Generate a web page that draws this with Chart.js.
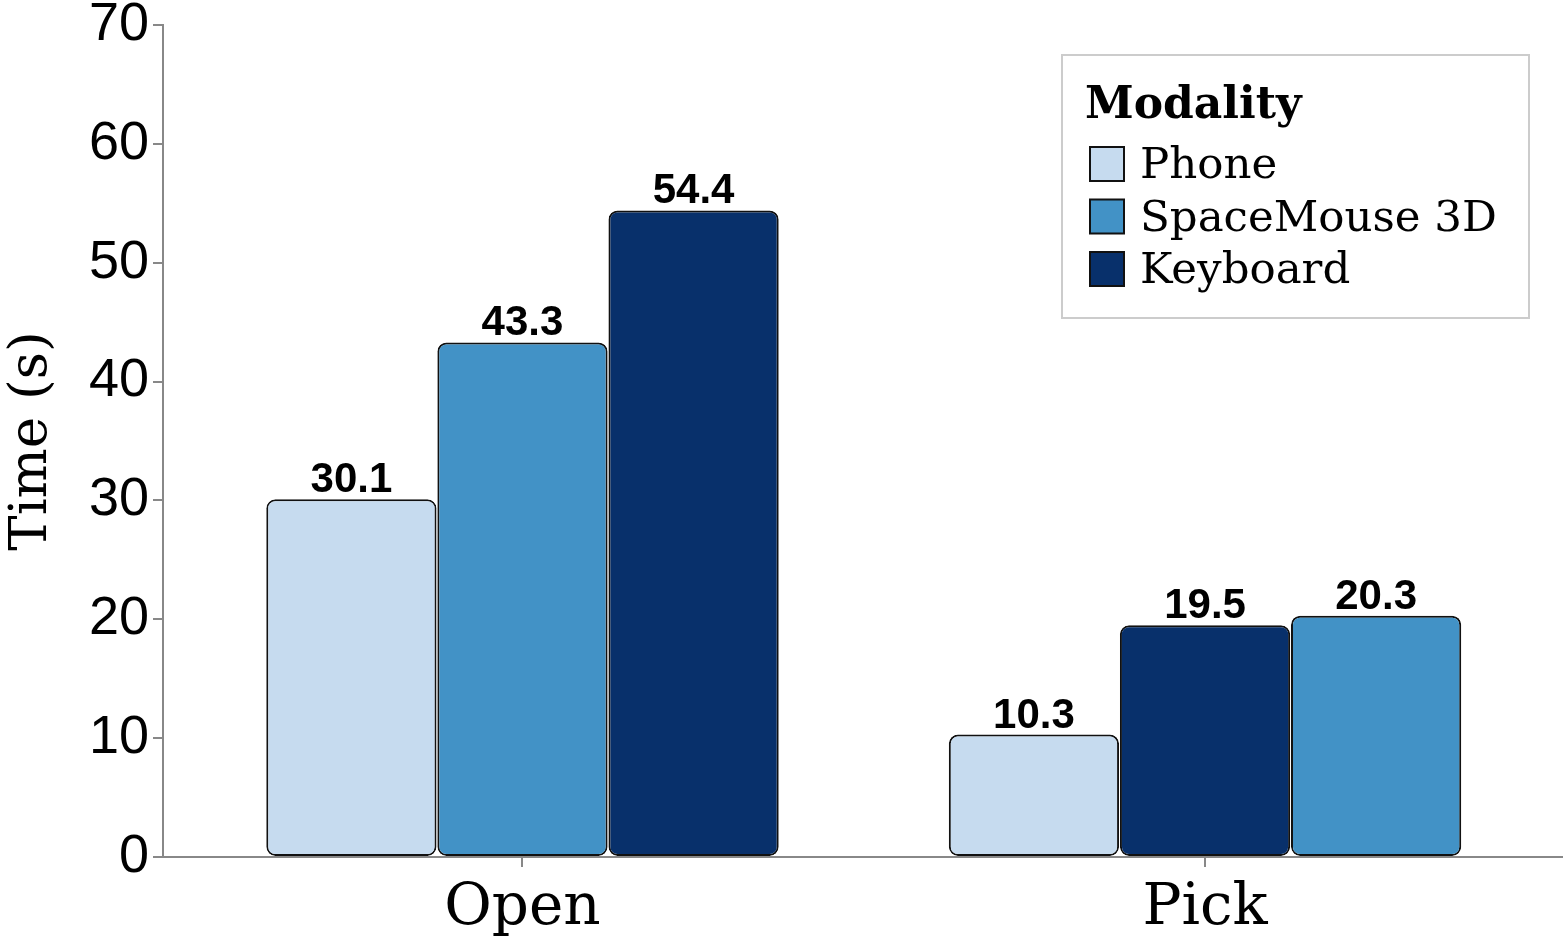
<!DOCTYPE html>
<html>
<head>
<meta charset="utf-8">
<script src="https://cdn.jsdelivr.net/npm/chart.js@4.4.1/dist/chart.umd.min.js"></script>
<style>
  html, body { margin: 0; padding: 0; background: #ffffff; }
  #wrap { width: 1564px; height: 944px; position: relative; }
</style>
</head>
<body>
<div id="wrap"><canvas id="c"></canvas></div>
<script>
// ---- data ----
const categories = ['Open', 'Pick'];
const modalities = ['Phone', 'SpaceMouse 3D', 'Keyboard'];
const phoneTimes = [30.1, 10.3];
const spaceMouseTimes = [43.3, 20.3];
const keyboardTimes = [54.4, 19.5];
const yTickValues = [0, 10, 20, 30, 40, 50, 60, 70];
const legendTitle = 'Modality';
const yTitle = 'Time (s)';

// ---- styles ----
const modalityColors = ['#c6dbef', '#4292c6', '#08306b'];
const serif = '"DejaVu Serif", serif';
const sans = '"Liberation Sans", Arial, sans-serif';

// Bars within each category are ordered by value (ascending), so build
// one dataset per position within the group.
const seriesByModality = [phoneTimes, spaceMouseTimes, keyboardTimes];
const slots = [[], [], []];
categories.forEach((cat, ci) => {
  const order = modalities.map((m, mi) => mi)
    .sort((a, b) => seriesByModality[a][ci] - seriesByModality[b][ci]);
  order.forEach((mi, pos) => {
    slots[pos].push({ x: ci, y: seriesByModality[mi][ci], modality: mi });
  });
});

const datasets = slots.map((pts, pos) => ({
  label: 'slot' + pos,
  data: pts.map(p => ({ x: p.x, y: p.y })),
  backgroundColor: pts.map(p => modalityColors[p.modality]),
  borderColor: '#111111',
  borderWidth: 2,
  borderRadius: 9,
  borderSkipped: false,
  categoryPercentage: 0.752,
  barPercentage: 0.995
}));

const valueLabels = {
  id: 'valueLabels',
  afterDatasetsDraw(chart) {
    const ctx = chart.ctx;
    ctx.save();
    ctx.font = 'bold 42px ' + sans;
    ctx.fillStyle = '#000';
    ctx.textAlign = 'center';
    ctx.textBaseline = 'alphabetic';
    chart.data.datasets.forEach((ds, di) => {
      const meta = chart.getDatasetMeta(di);
      meta.data.forEach((bar, i) => {
        ctx.fillText(ds.data[i].y.toFixed(1), bar.x, bar.y - 7);
      });
    });
    ctx.restore();
  }
};

const boxLegend = {
  id: 'boxLegend',
  afterDraw(chart) {
    const ctx = chart.ctx;
    ctx.save();
    const bx = 1062, by = 55, bw = 467, bh = 263;
    ctx.strokeStyle = '#cccccc';
    ctx.lineWidth = 2;
    ctx.strokeRect(bx, by, bw, bh);
    ctx.fillStyle = '#000';
    ctx.textAlign = 'left';
    ctx.textBaseline = 'alphabetic';
    ctx.font = 'bold 44px ' + serif;
    ctx.fillText(legendTitle, 1085, 118);
    ctx.font = '43.5px ' + serif;
    modalities.forEach((m, i) => {
      const y = 147 + i * 52.5;
      ctx.fillStyle = modalityColors[i];
      ctx.fillRect(1090, y, 34, 34);
      ctx.strokeStyle = '#111';
      ctx.lineWidth = 2;
      ctx.strokeRect(1090, y, 34, 34);
      ctx.fillStyle = '#000';
      ctx.fillText(m, 1140, y + 31);
    });
    ctx.restore();
  }
};

new Chart(document.getElementById('c'), {
  type: 'bar',
  data: { datasets },
  plugins: [valueLabels, boxLegend],
  options: {
    responsive: true,
    maintainAspectRatio: false,
    animation: false,
    layout: { padding: { top: 0, right: 2, bottom: 0, left: 0 } },
    plugins: { legend: { display: false }, tooltip: { enabled: false } },
    scales: {
      x: {
        type: 'linear',
        offset: false,
        min: -0.5267,
        max: 1.523,
        afterBuildTicks(scale) { scale.ticks = categories.map((c, i) => ({ value: i })); },
        afterFit(scale) { scale.height = 87; },
        grid: { offset: false, drawOnChartArea: false, drawTicks: true, tickLength: 10, color: '#888888', lineWidth: 2 },
        border: { color: '#888888', width: 2 },
        ticks: {
          autoSkip: false,
          maxRotation: 0,
          padding: 13,
          color: '#000',
          font: { family: serif, size: 58, lineHeight: 1.0 },
          callback: (v) => categories[v]
        }
      },
      y: {
        min: 0,
        max: 70,
        afterBuildTicks(scale) { scale.ticks = yTickValues.map(v => ({ value: v })); },
        afterFit(scale) { scale.width = 163; },
        grid: { drawOnChartArea: false, drawTicks: true, tickLength: 10, color: '#888888', lineWidth: 2 },
        border: { color: '#888888', width: 2 },
        title: {
          display: true,
          text: yTitle,
          color: '#000',
          font: { family: serif, size: 53 },
          padding: 0
        },
        ticks: {
          padding: 4,
          color: '#000',
          font: { family: sans, size: 54, lineHeight: 0.78 }
        }
      }
    }
  }
});
</script>
</body>
</html>
